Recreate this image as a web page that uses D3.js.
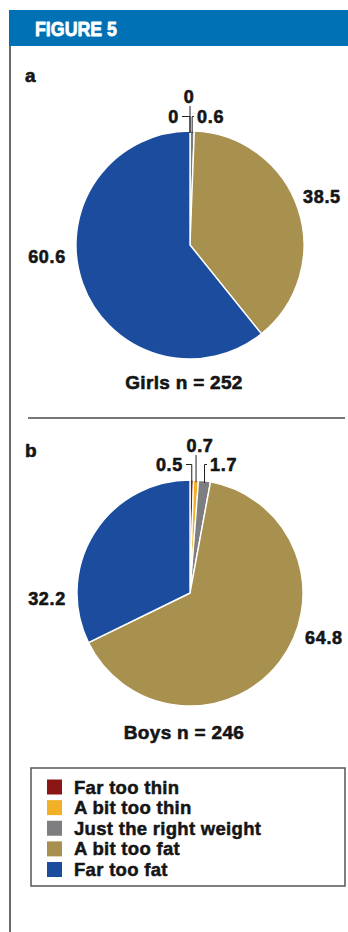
<!DOCTYPE html>
<html>
<head>
<meta charset="utf-8">
<script src="https://cdn.jsdelivr.net/npm/d3@7"></script>
<style>
  html, body { margin: 0; padding: 0; background: #fff; }
  svg { display: block; }
</style>
</head>
<body>
<script>
// ---- data ----
const figureTitle = "FIGURE 5";
const categories = ["Far too thin", "A bit too thin", "Just the right weight", "A bit too fat", "Far too fat"];
const girlsValues = [0, 0, 0.6, 38.5, 60.6];
const boysValues = [0.5, 0.7, 1.7, 64.8, 32.2];
const girlsTitle = "Girls n = 252";
const boysTitle = "Boys n = 246";
const panelLetters = ["a", "b"];
const sliceColors = ["#8a1616", "#f0b127", "#7e7e80", "#a8914f", "#1b4c9d"];

// ---- layout ----
const W = 348, H = 932;
const FONT = "'Liberation Sans', Arial, Helvetica, sans-serif";
const INK = "#151515";

const svg = d3.select("body").append("svg")
  .attr("width", W).attr("height", H);

// heavy text: bold face thickened with a thin outline of the same colour
function heavy(sel, fill, w) {
  return sel.attr("fill", fill).attr("stroke", fill)
    .attr("stroke-width", w).attr("stroke-linejoin", "round");
}

// header band
svg.append("rect")
  .attr("x", 9).attr("y", 10).attr("width", W - 9).attr("height", 36)
  .attr("fill", "#0071b4");
heavy(svg.append("text")
  .attr("x", 35).attr("y", 36)
  .attr("font-family", "'Liberation Sans Narrow', " + FONT)
  .attr("font-weight", 700).attr("font-size", 21)
  .attr("textLength", 82).attr("lengthAdjust", "spacingAndGlyphs")
  .text(figureTitle), "#fff", 0.8);

// left frame rule
svg.append("line")
  .attr("x1", 10).attr("x2", 10).attr("y1", 46).attr("y2", H)
  .attr("stroke", "#444").attr("stroke-width", 1.6);

// per-panel placement of pie and value labels (offsets from the pie centre)
const panels = [
  {
    letter: panelLetters[0], values: girlsValues, title: girlsTitle,
    cx: 190, cy: 245, r: 114, letterY: 82, titleY: 389,
    labels: [
      { dx: -11, dy: -122, anchor: "end",    leader: "left" },
      { dx: -1,  dy: -142, anchor: "middle", leader: "top" },
      { dx: 7,   dy: -122, anchor: "start",  leader: "right" },
      { dx: 113, dy: -42,  anchor: "start",  leader: null },
      { dx: -124, dy: 18,  anchor: "end",    leader: null }
    ]
  },
  {
    letter: panelLetters[1], values: boysValues, title: boysTitle,
    cx: 190, cy: 593, r: 113, letterY: 457, titleY: 739,
    labels: [
      { dx: -7,  dy: -122, anchor: "end",    leader: "left" },
      { dx: 10,  dy: -141, anchor: "middle", leader: "top" },
      { dx: 20,  dy: -122, anchor: "start",  leader: "right" },
      { dx: 115, dy: 51,   anchor: "start",  leader: null },
      { dx: -124, dy: 12,  anchor: "end",    leader: null }
    ]
  }
];

const pie = d3.pie().sort(null).value(d => d);
const color = d3.scaleOrdinal().domain(categories).range(sliceColors);

panels.forEach(p => {
  const g = svg.append("g");

  heavy(g.append("text")
    .attr("x", 25).attr("y", p.letterY)
    .attr("font-family", FONT).attr("font-weight", 700).attr("font-size", 19)
    .text(p.letter), INK, 0.6);

  const arcs = pie(p.values);
  const arc = d3.arc().innerRadius(0).outerRadius(p.r);

  const pieG = g.append("g").attr("transform", `translate(${p.cx},${p.cy})`);
  pieG.selectAll("path")
    .data(arcs)
    .join("path")
    .attr("d", arc)
    .attr("fill", (d, i) => color(categories[i]))
    .attr("stroke", "#fff")
    .attr("stroke-width", (d) => d.endAngle - d.startAngle > 0 ? 1.4 : 0)
    .attr("stroke-linejoin", "round");

  // value labels with elbow leaders for the thin slices
  arcs.forEach((d, i) => {
    const L = p.labels[i];
    const lx = p.cx + L.dx, ly = p.cy + L.dy;
    heavy(g.append("text")
      .attr("x", lx).attr("y", ly)
      .attr("text-anchor", L.anchor)
      .attr("font-family", FONT).attr("font-weight", 700).attr("font-size", 18)
      .attr("letter-spacing", 0.7)
      .text(d3.format("")(p.values[i])), INK, 0.6);

    if (L.leader) {
      const mid = (d.startAngle + d.endAngle) / 2;
      const ax = p.cx + p.r * Math.sin(mid);
      const ay = p.cy - p.r * Math.cos(mid);
      const yc = ly - 6.5;
      let pts;
      if (L.leader === "top") {
        pts = [[ax, ly + 3], [ax, ay + 2]];
      } else if (L.leader === "left") {
        pts = [[lx + 3, yc], [ax, yc], [ax, ay + 2]];
      } else {
        pts = [[lx - 3, yc], [ax, yc], [ax, ay + 2]];
      }
      g.append("path")
        .attr("d", d3.line()(pts))
        .attr("fill", "none")
        .attr("stroke", "#222").attr("stroke-width", 1);
    }
  });

  heavy(g.append("text")
    .attr("x", 184).attr("y", p.titleY)
    .attr("text-anchor", "middle")
    .attr("font-family", FONT).attr("font-weight", 700).attr("font-size", 19)
    .attr("letter-spacing", 0.3)
    .text(p.title), INK, 0.6);
});

// separator between the two panels
svg.append("line")
  .attr("x1", 28).attr("x2", 345).attr("y1", 418).attr("y2", 418)
  .attr("stroke", "#777").attr("stroke-width", 2);

// legend
const legend = svg.append("g");
legend.append("rect")
  .attr("x", 31).attr("y", 768).attr("width", 314).attr("height", 118)
  .attr("fill", "none").attr("stroke", "#555").attr("stroke-width", 1.5);

const legendY = d3.scalePoint().domain(categories).range([779.5, 862]);
const items = legend.selectAll("g.item")
  .data(categories)
  .join("g").attr("class", "item")
  .attr("transform", d => `translate(0,${legendY(d)})`);
items.append("rect")
  .attr("x", 47).attr("y", 0).attr("width", 15).attr("height", 15)
  .attr("fill", d => color(d));
heavy(items.append("text")
  .attr("x", 74).attr("y", 14)
  .attr("font-family", FONT).attr("font-weight", 700).attr("font-size", 18.5)
  .attr("letter-spacing", 0.3)
  .text(d => d), INK, 0.5);
</script>
</body>
</html>
